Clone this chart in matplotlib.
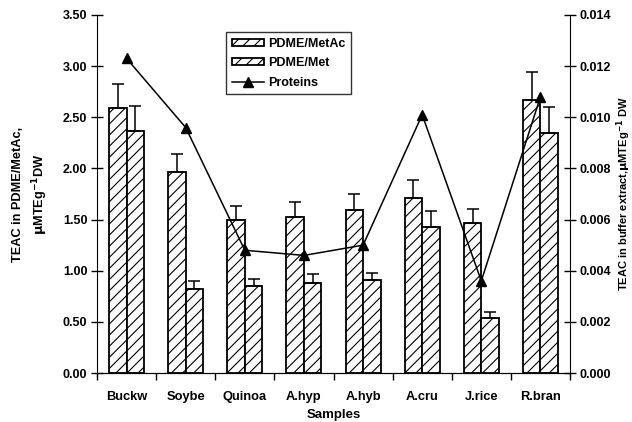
import numpy as np
import matplotlib
matplotlib.use("Agg")
import matplotlib.pyplot as plt

plt.rcParams['font.family'] = ['Liberation Sans', 'DejaVu Sans']
plt.rcParams['font.weight'] = 'bold'
plt.rcParams['hatch.linewidth'] = 0.8

samples = ["Buckw", "Soybe", "Quinoa", "A.hyp", "A.hyb", "A.cru", "J.rice", "R.bran"]
metac = [2.59, 1.97, 1.50, 1.53, 1.59, 1.71, 1.47, 2.67]
metac_err = [0.24, 0.17, 0.13, 0.14, 0.16, 0.18, 0.13, 0.27]
met = [2.37, 0.82, 0.85, 0.88, 0.91, 1.43, 0.54, 2.35]
met_err = [0.24, 0.08, 0.07, 0.09, 0.07, 0.15, 0.06, 0.25]
proteins = [0.0123, 0.0096, 0.0048, 0.0046, 0.0050, 0.0101, 0.0036, 0.0108]

fig = plt.figure(figsize=(6.32, 4.22), dpi=100)
ax = fig.add_axes([0.1535, 0.116, 0.7484, 0.8485])

x = np.arange(len(samples)) + 0.5
w = 0.296
b1 = ax.bar(x - w / 2, metac, w, color='white', edgecolor='black', hatch='///',
            linewidth=1.3, label='PDME/MetAc')
b2 = ax.bar(x + w / 2, met, w, color='white', edgecolor='black', hatch='///',
            linewidth=1.3, label='PDME/Met')
ax.errorbar(x - w / 2, metac, yerr=[np.zeros(len(metac)), metac_err], fmt='none',
            ecolor='black', elinewidth=1.1, capsize=4, capthick=1.1)
ax.errorbar(x + w / 2, met, yerr=[np.zeros(len(met)), met_err], fmt='none',
            ecolor='black', elinewidth=1.1, capsize=4, capthick=1.1)

ax.set_xlim(0, len(samples))
ax.set_ylim(0, 3.5)
ax.set_yticks(np.arange(0, 3.51, 0.5))
ax.set_yticklabels([f"{v:.2f}" for v in np.arange(0, 3.51, 0.5)])
ax.set_xticks(x)
ax.set_xticklabels(samples)
ax.set_xticks(np.arange(0, len(samples) + 1), minor=True)
ax.tick_params(axis='x', which='major', length=0, pad=13, labelsize=9.3)
ax.tick_params(axis='x', which='minor', length=5, direction='out', width=1.0)
ax.tick_params(axis='y', direction='inout', length=8, labelsize=9, width=1.0, pad=3)
ax.spines['top'].set_visible(False)
ax.spines['right'].set_visible(False)
ax.set_xlabel('Samples', fontsize=9.5, fontweight='bold', labelpad=4)
ax.set_ylabel('TEAC in PDME/MetAc,\n$\\mathbf{\\mu}$MTEg$^{\\mathbf{-1}}$DW', fontsize=9.2,
              fontweight='bold', labelpad=9, linespacing=1.5)

ax2 = ax.twinx()
ax2.set_ylim(0, 0.014)
ax2.set_yticks(np.arange(0, 0.0141, 0.002))
ax2.set_yticklabels([f"{v:.3f}" for v in np.arange(0, 0.0141, 0.002)])
ax2.tick_params(axis='y', direction='inout', length=8, labelsize=9, width=1.0, pad=3)
ax2.spines['top'].set_visible(False)
ax2.spines['left'].set_visible(False)
line, = ax2.plot(x, proteins, color='black', marker='^', markersize=7, linewidth=1.1,
                 label='Proteins')
ax2.set_ylabel('TEAC in buffer extract,$\\mathbf{\\mu}$MTEg$^{\\mathbf{-1}}$ DW', fontsize=8,
               fontweight='bold', labelpad=2)

leg = fig.legend([b1, b2, line], ['PDME/MetAc', 'PDME/Met', 'Proteins'],
                 loc='upper left', bbox_to_anchor=(0.3576, 0.924), fontsize=9,
                 frameon=True, fancybox=False, edgecolor='black', handlelength=2.6,
                 handleheight=0.5, handletextpad=0.3, borderpad=0.45, labelspacing=0.6,
                 borderaxespad=0)
leg.get_frame().set_linewidth(1.0)

fig.savefig('out.png', dpi=100)
